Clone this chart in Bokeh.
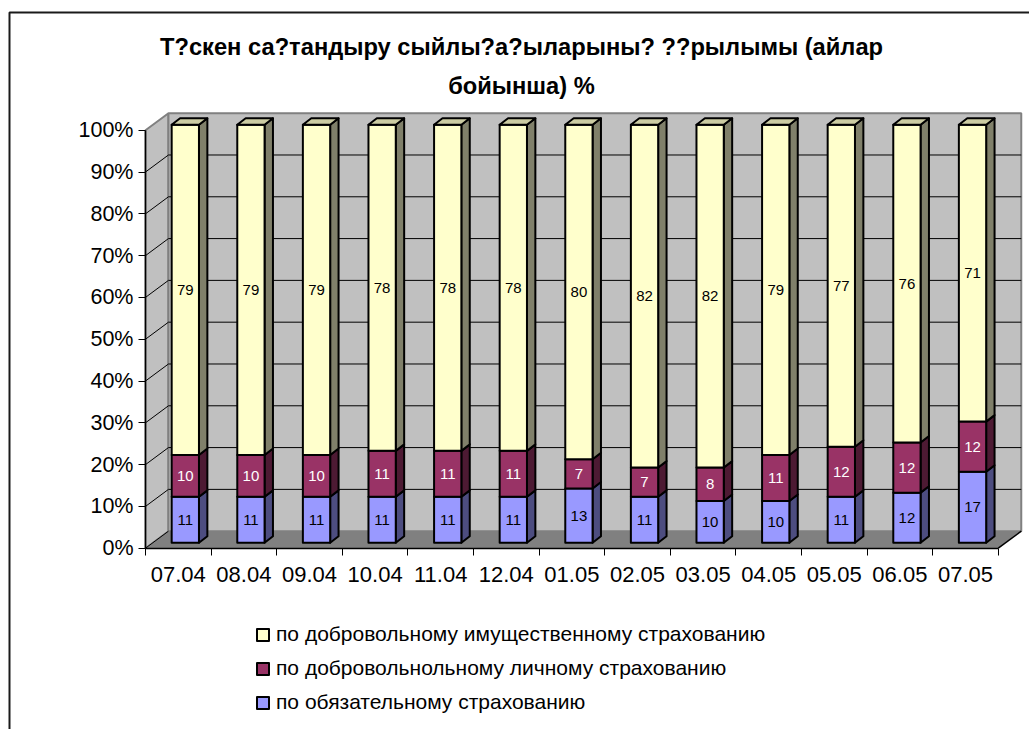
from bokeh.plotting import figure
from bokeh.models import Range1d, FixedTicker, Legend, LegendItem, ColumnDataSource, PrintfTickFormatter
from bokeh.core.properties import value
from bokeh.embed import file_html
from bokeh.resources import INLINE

# ---- data -------------------------------------------------------------
months = ["07.04", "08.04", "09.04", "10.04", "11.04", "12.04", "01.05",
          "02.05", "03.05", "04.05", "05.05", "06.05", "07.05"]
mandatory = [11, 11, 11, 11, 11, 11, 13, 11, 10, 10, 11, 12, 17]
personal = [10, 10, 10, 11, 11, 11, 7, 7, 8, 11, 12, 12, 12]
property_ins = [79, 79, 79, 78, 78, 78, 80, 82, 82, 79, 77, 76, 71]

series_names = ["по обязательному страхованию",
                "по добровольнольному личному страхованию",
                "по добровольному имущественному страхованию"]
title_text = "Т?скен са?тандыру сыйлы?а?ыларыны? ??рылымы (айлар\nбойынша) %"
y_ticks = [0, 10, 20, 30, 40, 50, 60, 70, 80, 90, 100]

# ---- style ------------------------------------------------------------
FONT = "Liberation Sans"
front_colors = ["#9999FF", "#993366", "#FFFFCC"]
side_colors = ["#4D4D80", "#4D1A33", "#80806A"]
top_colors = ["#7A7ACC", "#7A2952", "#CCCCA3"]
label_colors = ["black", "white", "black"]

# 3-D geometry (data units: x = category, y = percent)
FX, FY = 0.107, 1.29      # bar front plane offset
BW = 0.416                # bar width
DX, DY = 0.128, 1.55      # bar depth
WX, WY = 0.35, 4.07       # wall depth

PXX, PXY = 65.6, 4.18     # pixels per data unit
W, H = 1029, 729
X0 = -177.8 / PXX
X1 = X0 + W / PXX
Y1 = 547.7 / PXY
Y0 = Y1 - H / PXY

p = figure(width=W, height=H, title=None,
           x_range=Range1d(X0, X1), y_range=Range1d(Y0, Y1),
           output_backend="svg", toolbar_location=None,
           min_border_left=0, min_border_right=0, min_border_top=0, min_border_bottom=0,
           outline_line_color=None, background_fill_color="white", border_fill_color="white")
p.grid.visible = False

n = len(months)
xl = -0.5
xr = n - 0.5

# ---- chart area border (cropped at right and bottom) ------------------
bx = X0 + 9 / PXX
by = Y1 - 12 / PXY
p.line([bx, bx, X1], [Y0, by, by], line_color="#1a1a1a", line_width=2)

# ---- walls & floor ----------------------------------------------------
p.patch([xl, xl + WX, xl + WX, xl], [0, WY, 100 + WY, 100],
        fill_color="#C0C0C0", line_color="#808080", line_width=2)
p.patch([xl + WX, xr + WX, xr + WX, xl + WX], [WY, WY, 100 + WY, 100 + WY],
        fill_color="#C0C0C0", line_color="#808080", line_width=2)
p.patch([xl, xr, xr + WX, xl + WX], [0, 0, WY, WY],
        fill_color="#808080", line_color=None)

gl = [t for t in y_ticks if 0 < t < 100]
p.segment(x0=[xl + WX] * len(gl), y0=[t + WY for t in gl],
          x1=[xr + WX] * len(gl), y1=[t + WY for t in gl],
          line_color="black", line_width=1)
dg = [t for t in y_ticks if t < 100]
p.segment(x0=[xl] * len(dg), y0=dg, x1=[xl + WX] * len(dg), y1=[t + WY for t in dg],
          line_color="black", line_width=1)
p.line([xr, xr + WX], [0, WY], line_color="black", line_width=1.5)

# ---- bars -------------------------------------------------------------
raw = [mandatory, personal, property_ins]
totals = [sum(s[i] for s in raw) for i in range(n)]
pct = [[s[i] / totals[i] * 100 for i in range(n)] for s in raw]

bottoms = [0.0] * n
front_renderers = []
for k in range(3):
    tops = [bottoms[i] + pct[k][i] for i in range(n)]
    cx = [i + FX for i in range(n)]
    left = [c - BW / 2 for c in cx]
    right = [c + BW / 2 for c in cx]
    p.patches(xs=[[right[i], right[i] + DX, right[i] + DX, right[i]] for i in range(n)],
              ys=[[bottoms[i] + FY, bottoms[i] + FY + DY, tops[i] + FY + DY, tops[i] + FY] for i in range(n)],
              fill_color=side_colors[k], line_color="black", line_width=2, line_join="round")
    src = ColumnDataSource(dict(left=left, right=right,
                                bottom=[b + FY for b in bottoms], top=[t + FY for t in tops]))
    r = p.quad(left="left", right="right", bottom="bottom", top="top", source=src,
               fill_color=front_colors[k], line_color="black", line_width=2, line_join="round")
    front_renderers.append(r)
    if k == 2:
        p.patches(xs=[[left[i], right[i], right[i] + DX, left[i] + DX] for i in range(n)],
                  ys=[[tops[i] + FY, tops[i] + FY, tops[i] + FY + DY, tops[i] + FY + DY] for i in range(n)],
                  fill_color=top_colors[k], line_color="black", line_width=2, line_join="round")
    p.text(x=cx, y=[(bottoms[i] + tops[i]) / 2 + FY for i in range(n)],
           text=[str(v) for v in raw[k]], text_align="center", text_baseline="middle",
           text_font=value(FONT), text_font_size="15px", text_color=label_colors[k])
    bottoms = tops

# ---- title ------------------------------------------------------------
p.text(x=[(521 - 177.8) / PXX], y=[115.3], text=[title_text], text_align="center",
       text_baseline="middle", text_font=value(FONT), text_font_style="bold",
       text_font_size="23.7px", text_line_height=1.5, text_color="black")

# ---- axes -------------------------------------------------------------
yax = p.yaxis[0]
yax.fixed_location = xl
yax.bounds = (0, 100)
yax.ticker = FixedTicker(ticks=y_ticks)
yax.formatter = PrintfTickFormatter(format="%d%%")
yax.axis_line_color = "black"
yax.axis_line_width = 1.5
yax.major_tick_out = 7
yax.major_tick_in = 0
yax.minor_tick_line_color = None
yax.major_label_standoff = 5
yax.major_label_text_font = FONT
yax.major_label_text_font_size = "21.5px"
yax.major_label_text_color = "black"

xax = p.xaxis[0]
xax.fixed_location = 0
xax.bounds = (xl, xr)
xax.ticker = FixedTicker(ticks=list(range(n)), minor_ticks=[i - 0.5 for i in range(n + 1)])
xax.major_label_overrides = {i: m for i, m in enumerate(months)}
xax.axis_line_color = "black"
xax.axis_line_width = 1.5
xax.major_tick_line_color = None
xax.major_tick_out = 0
xax.major_tick_in = 0
xax.minor_tick_out = 7
xax.minor_tick_in = 0
xax.minor_tick_line_color = "black"
xax.major_label_standoff = 12
xax.major_label_text_font = FONT
xax.major_label_text_font_size = "22px"
xax.major_label_text_color = "black"

# ---- legend -----------------------------------------------------------
legend = Legend(items=[LegendItem(label=series_names[k], renderers=[front_renderers[k]]) for k in (2, 1, 0)],
                location=(255, 15), orientation="vertical",
                glyph_width=15, glyph_height=15, label_standoff=6, spacing=10,
                padding=0, margin=0, border_line_color=None, background_fill_alpha=0,
                label_text_font=FONT, label_text_font_size="21px", label_text_color="black")
p.add_layout(legend, "center")

open("out.html", "w").write(file_html(p, INLINE))
